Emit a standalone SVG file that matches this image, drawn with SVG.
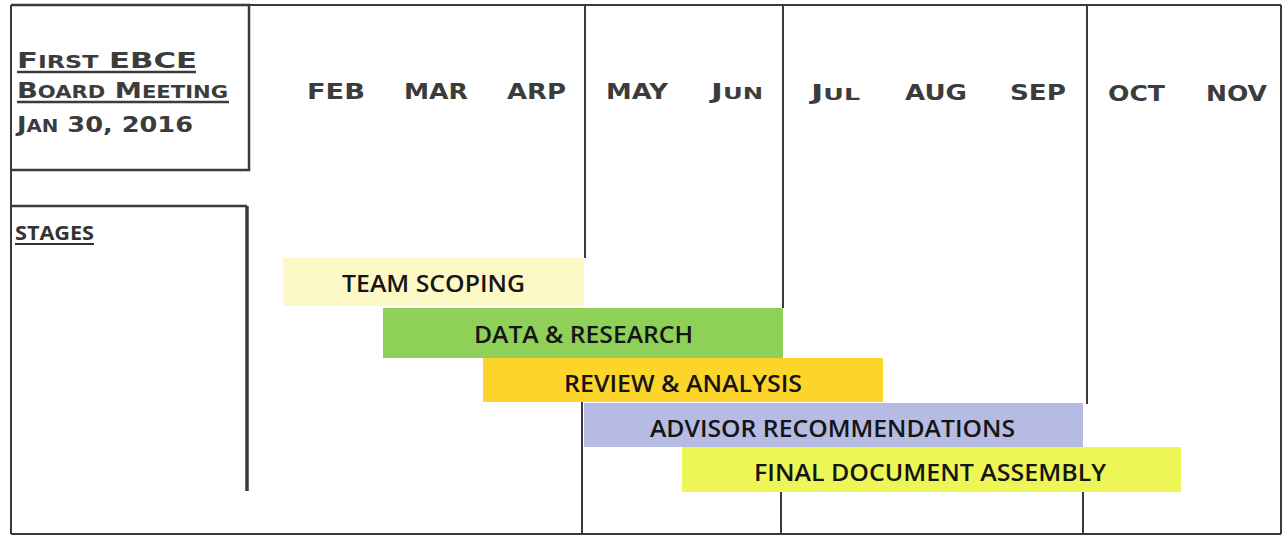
<svg xmlns="http://www.w3.org/2000/svg" width="1283" height="537" viewBox="0 0 1283 537">
<style>
.ln{stroke:#3a3a3a;stroke-width:2;fill:none}
.bx{stroke:#3a3a3a;stroke-width:2.5;fill:none}
.hd{font-family:"DejaVu Sans",sans-serif;font-weight:bold;fill:#3c3c3c}
.mo{font-family:"DejaVu Sans",sans-serif;font-weight:bold;fill:#3c3c3c;font-size:21px}
.bl{font-family:"Open Sans","Liberation Sans",sans-serif;font-weight:600;fill:#151515;font-size:24px}
</style>
<rect width="1283" height="537" fill="#fff"/>
<g id="grid">
<line class="ln" x1="11" y1="5" x2="1281" y2="5"/>
<line class="ln" x1="11" y1="5" x2="11" y2="534"/>
<line class="ln" x1="11" y1="534" x2="1281" y2="534"/>
<line class="ln" x1="1281" y1="5" x2="1281" y2="534"/>
<line class="ln" x1="585" y1="5" x2="585" y2="258"/>
<line class="ln" x1="582" y1="402" x2="582" y2="534"/>
<line class="ln" x1="783" y1="5" x2="783" y2="308"/>
<line class="ln" x1="781" y1="492" x2="781" y2="534"/>
<line class="ln" x1="1087" y1="5" x2="1087" y2="404"/>
<line class="ln" x1="1083" y1="492" x2="1083" y2="534"/>
</g>
<g id="title-box">
<path class="bx" d="M11 5 H249 V170 H11"/>
<text class="hd" x="17" y="68" font-size="22" textLength="180" lengthAdjust="spacingAndGlyphs">F<tspan font-size="17">IRST</tspan> EBCE</text>
<line x1="17" y1="72" x2="196" y2="72" stroke="#3c3c3c" stroke-width="2.5"/>
<text class="hd" x="17" y="98" font-size="22" textLength="211" lengthAdjust="spacingAndGlyphs">B<tspan font-size="17">OARD</tspan> M<tspan font-size="17">EETING</tspan></text>
<line x1="17" y1="102" x2="229" y2="102" stroke="#3c3c3c" stroke-width="2.5"/>
<text class="hd" x="17" y="132" font-size="22" textLength="176" lengthAdjust="spacingAndGlyphs">J<tspan font-size="17">AN</tspan> 30, 2016</text>
</g>
<g id="stages-box">
<path class="bx" d="M11 206 H247"/>
<line x1="247" y1="206" x2="247" y2="491" stroke="#3a3a3a" stroke-width="3.5"/>
<text x="15" y="240" font-family="'Open Sans','Liberation Sans',sans-serif" font-weight="bold" font-size="19" fill="#333" textLength="79" lengthAdjust="spacingAndGlyphs">STAGES</text>
<line x1="15" y1="244" x2="94" y2="244" stroke="#333" stroke-width="2"/>
</g>
<g id="months">
<text class="mo" x="307" y="99" textLength="58" lengthAdjust="spacingAndGlyphs">FEB</text>
<text class="mo" x="404" y="99" textLength="64" lengthAdjust="spacingAndGlyphs">MAR</text>
<text class="mo" x="507" y="99" textLength="59" lengthAdjust="spacingAndGlyphs">ARP</text>
<text class="mo" x="606" y="99" textLength="62" lengthAdjust="spacingAndGlyphs">MAY</text>
<text class="mo" x="711" y="99" textLength="52" lengthAdjust="spacingAndGlyphs">J<tspan font-size="16">UN</tspan></text>
<text class="mo" x="811" y="100" textLength="49" lengthAdjust="spacingAndGlyphs">J<tspan font-size="16">UL</tspan></text>
<text class="mo" x="905" y="100" textLength="62" lengthAdjust="spacingAndGlyphs">AUG</text>
<text class="mo" x="1010" y="100" textLength="56" lengthAdjust="spacingAndGlyphs">SEP</text>
<text class="mo" x="1108" y="101" textLength="57" lengthAdjust="spacingAndGlyphs">OCT</text>
<text class="mo" x="1206" y="101" textLength="61" lengthAdjust="spacingAndGlyphs">NOV</text>
</g>
<g id="team-scoping">
<rect x="283" y="258" width="301" height="48" fill="#fdf9c6"/>
<text class="bl" x="342" y="292" textLength="183" lengthAdjust="spacingAndGlyphs">TEAM SCOPING</text>
</g>
<g id="data-research">
<rect x="383" y="308" width="400" height="50" fill="#8fd058"/>
<text class="bl" x="474" y="343" textLength="219" lengthAdjust="spacingAndGlyphs">DATA &amp; RESEARCH</text>
</g>
<g id="review-analysis">
<rect x="483" y="358" width="400" height="44" fill="#fdd52a"/>
<text class="bl" x="564" y="392" textLength="238" lengthAdjust="spacingAndGlyphs">REVIEW &amp; ANALYSIS</text>
</g>
<g id="advisor-recommendations">
<rect x="584" y="403" width="499" height="44" fill="#b5bbe3"/>
<text class="bl" x="650" y="437" textLength="365" lengthAdjust="spacingAndGlyphs">ADVISOR RECOMMENDATIONS</text>
</g>
<g id="final-document-assembly">
<rect x="682" y="447" width="499" height="45" fill="#eef556"/>
<text class="bl" x="754" y="481" textLength="352" lengthAdjust="spacingAndGlyphs">FINAL DOCUMENT ASSEMBLY</text>
</g>
</svg>
